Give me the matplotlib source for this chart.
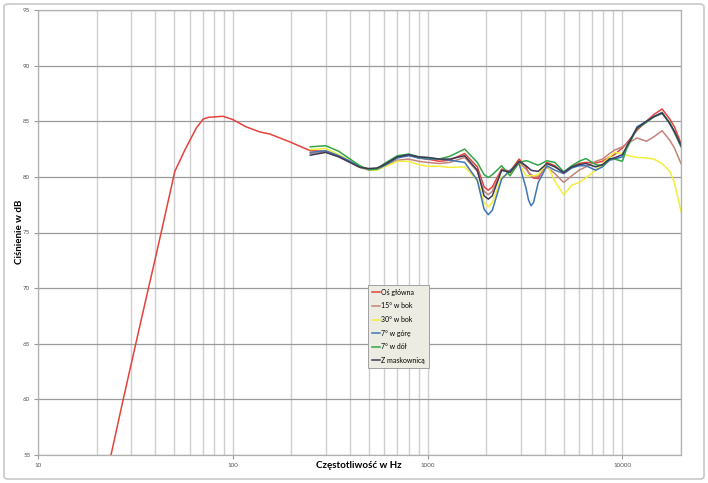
import matplotlib
matplotlib.use("Agg")
import matplotlib.pyplot as plt
from matplotlib.patches import FancyBboxPatch
from matplotlib.ticker import FixedLocator, NullFormatter

# main axis, low-frequency part (measured only on axis)
red_low_freq = [23.7, 27.3, 31.2, 35.7, 40.9, 46.7, 50.4, 56.7,
                65, 70.5, 75, 89, 100, 117, 137, 155, 196]
red_low_db = [55.0, 59.9, 64.4, 68.9, 73.4, 77.9, 80.5, 82.4,
              84.4, 85.2, 85.35, 85.45, 85.15, 84.5, 84.05, 83.85, 83.15]

# shared frequency grid for the polar measurements
freq = [250, 300, 350, 400, 450, 500, 550, 600, 700, 800, 900, 1000, 1150,
        1300, 1550, 1800, 1950, 2050, 2150, 2400, 2650, 2950, 3200, 3300,
        3400, 3500, 3700, 4100, 4500, 5000, 5500, 6000, 6500, 7300, 7900,
        8600, 9100, 10000, 10500, 11900, 13300, 14500, 16000, 17500, 18500,
        20000]

os_glowna = [82.35, 82.3, 81.9, 81.4, 80.9, 80.7, 80.75, 81.1, 81.8, 82.0,
             81.7, 81.6, 81.4, 81.5, 82.1, 80.9, 79.1, 78.8, 79.1, 80.7,
             80.5, 81.6, 80.9, 80.4, 80.1, 79.9, 79.85, 81.3, 81.0, 80.3,
             80.9, 81.2, 81.3, 81.25, 81.4, 81.8, 82.0, 82.6, 83.0, 84.2,
             85.0, 85.6, 86.1, 85.2, 84.5, 83.0]
bok_15 = [82.1, 82.25, 81.8, 81.3, 80.85, 80.6, 80.7, 81.0, 81.5, 81.6,
          81.4, 81.3, 81.2, 81.3, 81.75, 80.5, 78.7, 78.4, 78.7, 80.6,
          80.4, 81.3, 80.7, 80.4, 80.2, 80.1, 80.05, 80.9, 80.3, 79.5,
          80.1, 80.6, 80.9, 81.4, 81.6, 82.1, 82.4, 82.7, 82.95, 83.5,
          83.2, 83.6, 84.15, 83.3, 82.6, 81.2]
bok_30 = [82.45, 82.55, 82.0, 81.4, 80.9, 80.6, 80.6, 80.9, 81.4, 81.4,
          81.1, 80.95, 80.95, 80.85, 80.9, 79.7, 77.7, 77.3, 77.7, 80.0,
          80.3, 81.2, 80.1, 80.1, 80.1, 80.1, 80.2, 81.2, 79.6, 78.4,
          79.25, 79.5, 79.9, 80.6, 81.2, 81.8, 82.2, 82.1, 81.95, 81.75,
          81.7, 81.6, 81.2, 80.5, 79.5, 76.9]
gora_7 = [82.2, 82.35, 81.9, 81.4, 80.9, 80.65, 80.7, 81.0, 81.7, 81.9,
          81.7, 81.6, 81.6, 81.5, 81.3, 79.7, 77.1, 76.6, 77.0, 79.8,
          80.6, 81.2, 79.0, 77.9, 77.4, 77.7, 79.5, 81.0, 80.6, 80.3,
          80.8, 81.0, 81.0, 80.6, 80.9, 81.5, 81.6, 81.8, 82.6, 84.5,
          85.0, 85.4, 85.8, 84.8, 84.0, 82.9]
dol_7 = [82.7, 82.8, 82.3, 81.6, 81.0, 80.65, 80.7, 81.2, 81.9, 82.05,
         81.8, 81.7, 81.6, 81.85, 82.5, 81.3, 80.2, 79.95, 80.2, 81.0,
         80.1, 81.3, 81.45, 81.4, 81.3, 81.2, 81.05, 81.45, 81.3, 80.45,
         81.0, 81.4, 81.65, 81.1, 81.0, 81.65, 81.6, 81.4, 82.5, 84.35,
         84.9, 85.4, 85.7, 84.9, 84.0, 82.7]
maskownica = [81.95, 82.2, 81.8, 81.3, 80.85, 80.75, 80.8, 81.1, 81.8, 82.0,
              81.8, 81.75, 81.6, 81.6, 81.9, 80.6, 78.3, 78.0, 78.3, 80.6,
              80.4, 81.4, 81.0, 80.8, 80.6, 80.55, 80.5, 81.2, 80.9, 80.4,
              80.9, 81.1, 81.2, 80.9, 81.1, 81.6, 81.7, 82.0, 82.7, 84.4,
              85.0, 85.4, 85.75, 84.8, 84.1, 82.8]

labels = ["Oś główna", "15° w bok", "30° w bok", "7° w górę", "7° w dół",
          "Z maskownicą"]
colors = ["#E4423B", "#C3847C", "#F2EE3C", "#3F77B6", "#33A548", "#3C3A55"]

y_ticks = list(range(55, 96, 5))
x_ticks = [10, 100, 1000, 10000]

plt.rcParams["font.family"] = ["Lato", "DejaVu Sans"]

fig = plt.figure(figsize=(7.08, 4.83), dpi=100)
ax = fig.add_axes([38 / 708, 1 - 455 / 483, 643 / 708, 445 / 483])

# chart border like the spreadsheet frame
fig.patches.append(FancyBboxPatch((4 / 708, 4 / 483), 700 / 708, 475 / 483,
                                  boxstyle="round,pad=0,rounding_size=0.006",
                                  transform=fig.transFigure, fill=False,
                                  edgecolor="#c8c8c8", linewidth=1.2))

ax.set_xscale("log")
ax.set_xlim(10, 20000)
ax.set_ylim(55, 95)

minor = [m * 10 ** d for d in range(1, 5) for m in range(2, 10)]
minor = [v for v in minor if v <= 20000]
ax.xaxis.set_minor_locator(FixedLocator(minor))
ax.xaxis.set_minor_formatter(NullFormatter())
ax.set_xticks(x_ticks)
ax.set_xticklabels([str(v) for v in x_ticks])
ax.set_yticks(y_ticks)

ax.grid(True, which="both", axis="x", color="#cfcfcf", linewidth=1.0)
ax.grid(True, which="major", axis="y", color="#9a9a9a", linewidth=0.9)
ax.set_axisbelow(True)

for sp in ax.spines.values():
    sp.set_color("#b0b0b0")
    sp.set_linewidth(0.9)
ax.tick_params(axis="both", which="major", labelsize=4.5, labelcolor="#555555",
               color="#9a9a9a", length=3, width=0.8, pad=2.5)
ax.tick_params(axis="x", which="minor", length=0)

series = [os_glowna, bok_15, bok_30, gora_7, dol_7, maskownica]
for i, (vals, lab, col) in enumerate(zip(series, labels, colors)):
    if i == 0:
        f = red_low_freq + freq
        v = red_low_db + vals
    else:
        f, v = freq, vals
    ax.plot(f, v, color=col, linewidth=1.1, label=lab)

# axis titles placed like in the original sheet
fig.text(359 / 708, 1 - 466 / 483, "Częstotliwość w Hz", fontsize=7,
         fontweight="bold", ha="center", va="center")
fig.text(19 / 708, 1 - 232 / 483, "Ciśnienie w dB", fontsize=7,
         fontweight="bold", ha="center", va="center", rotation=90)

leg = ax.legend(loc="upper left", bbox_to_anchor=(0.508, 0.39), fontsize=5,
                frameon=True, fancybox=False, handlelength=1.1,
                handletextpad=0.2, borderpad=0.55, labelspacing=0.95)
leg.get_frame().set_facecolor("#EDECE2")
leg.get_frame().set_edgecolor("#a0a0a0")
leg.get_frame().set_linewidth(0.7)
leg.get_frame().set_alpha(1)

fig.savefig("out.png", dpi=100)
